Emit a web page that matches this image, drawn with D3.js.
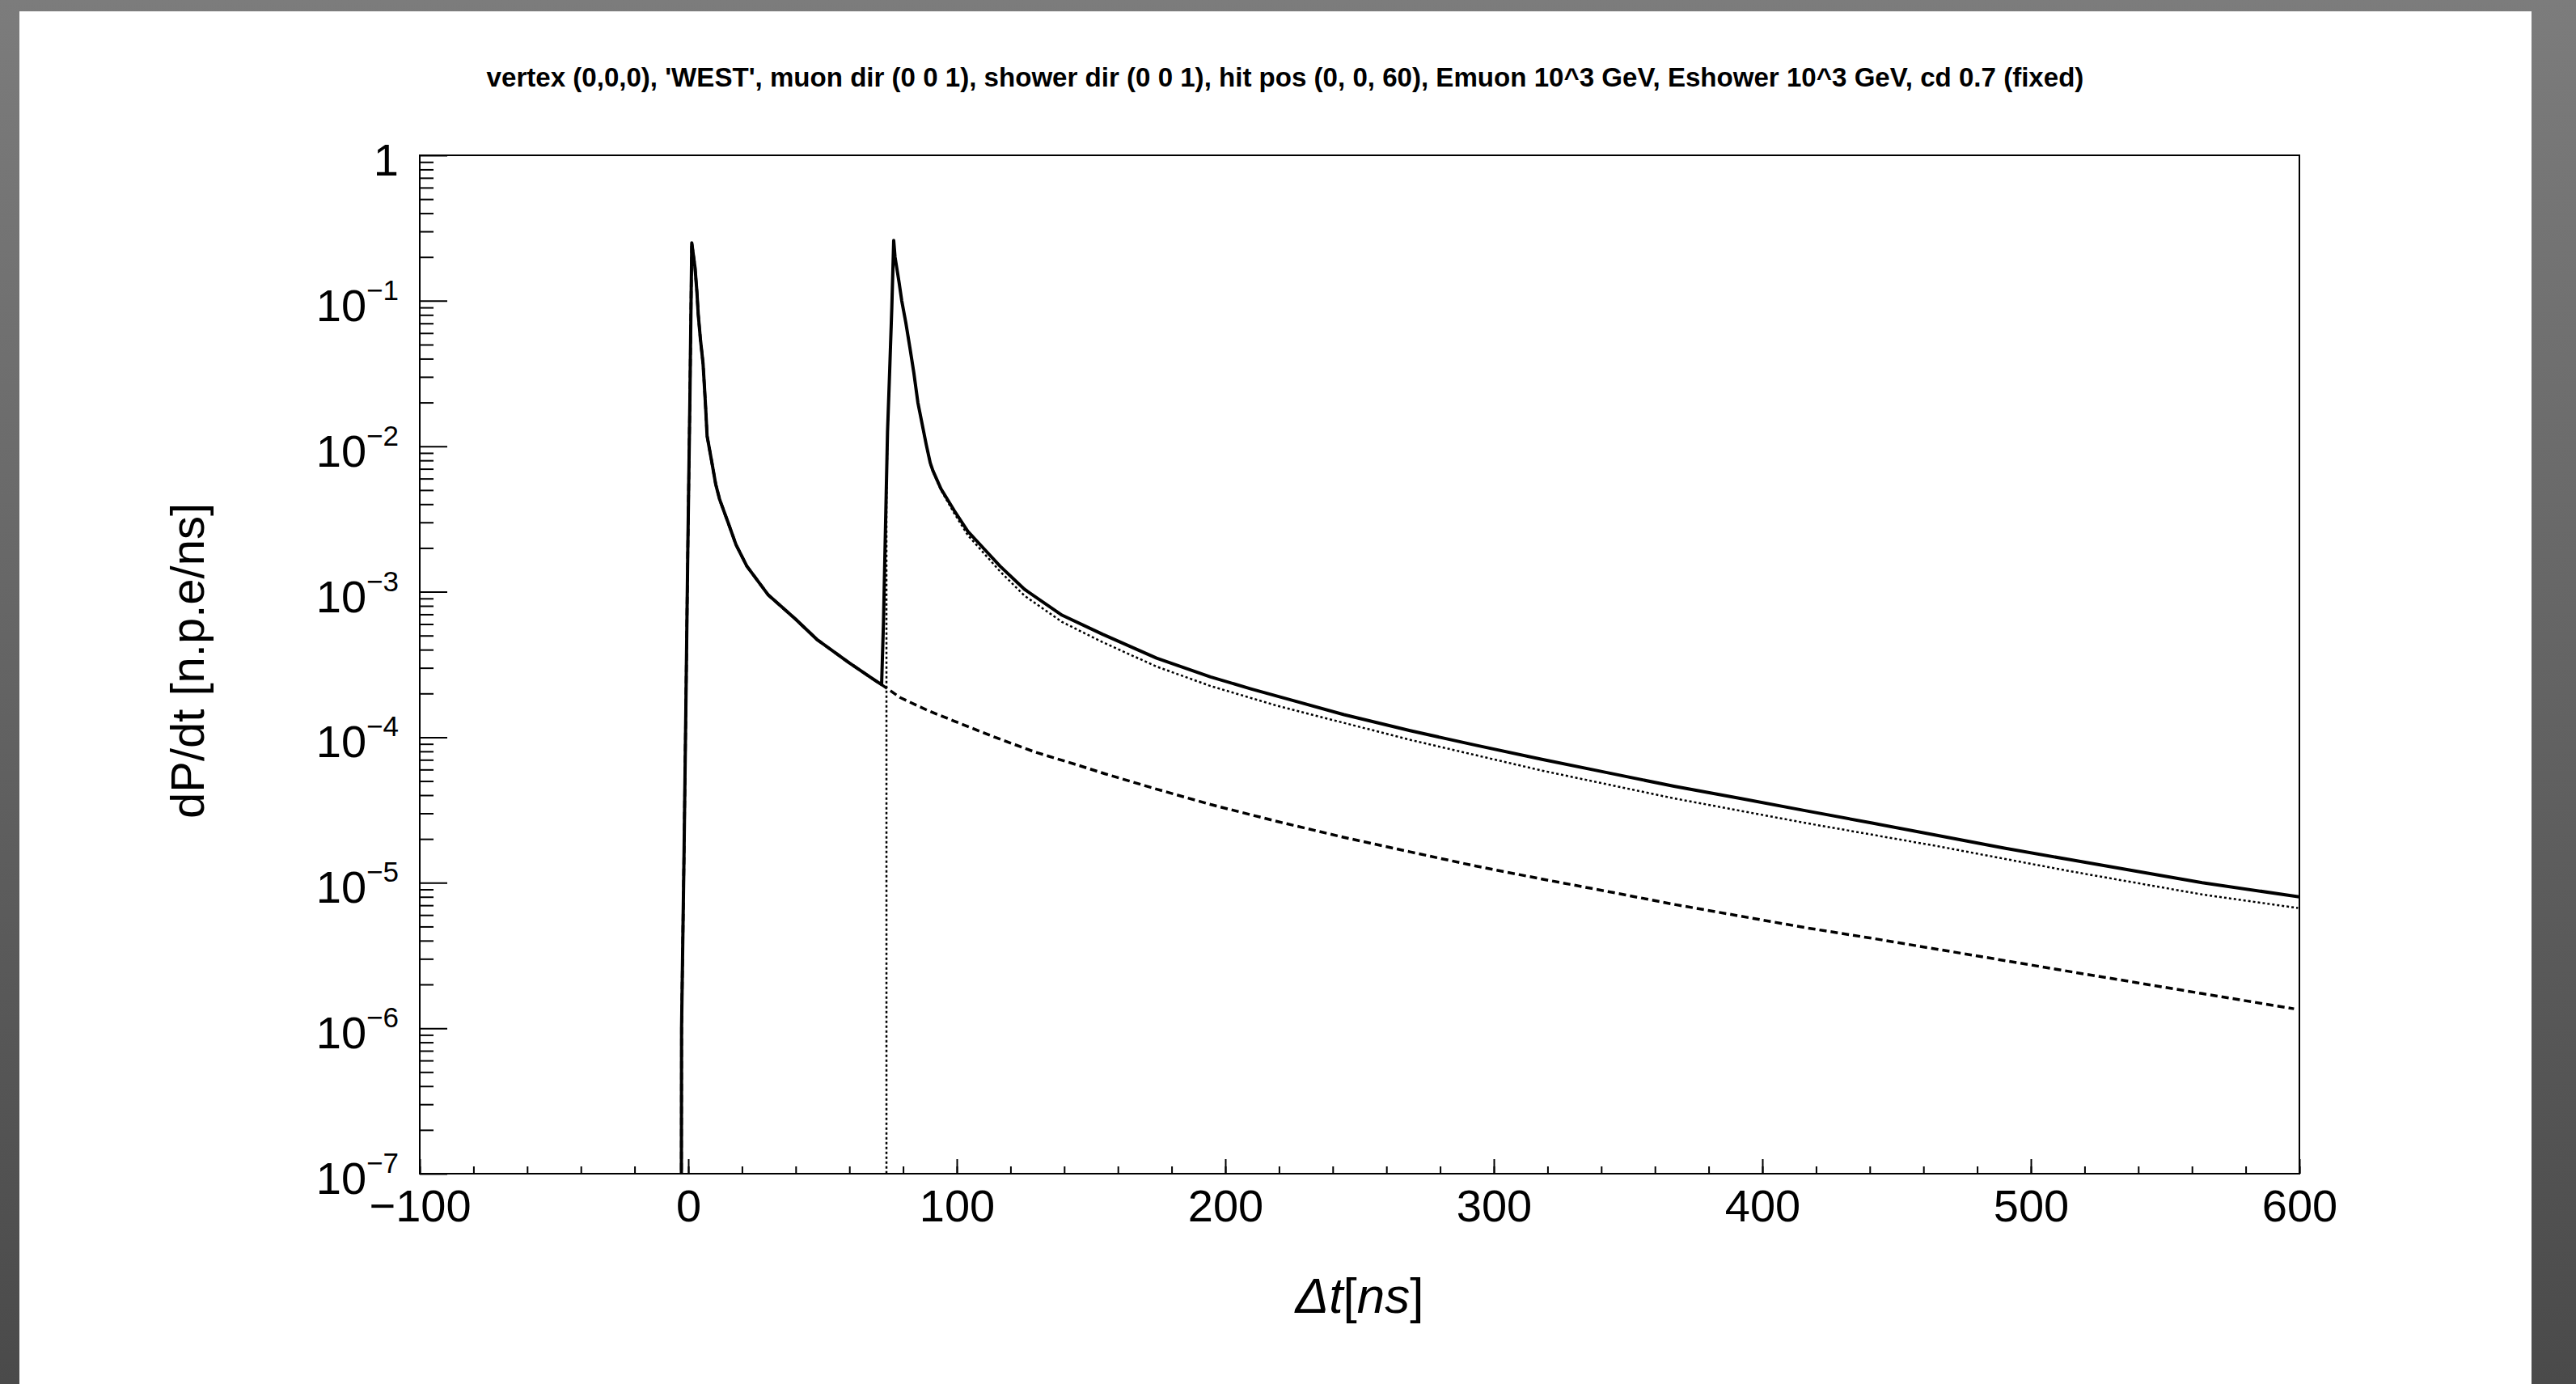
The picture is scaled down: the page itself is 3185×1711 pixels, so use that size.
<!DOCTYPE html>
<html lang="en">

<head>
  <meta charset="UTF-8">
  <title>dP/dt</title>
  <script src="https://d3js.org/d3.v7.min.js"></script>
  <style>
    body {
      margin: 0;
      background: #fff;
    }

    svg {
      display: block;
      font-family: "Liberation Sans", Arial, Helvetica, sans-serif;
    }
  </style>
</head>

<body>
  <svg width="3185" height="1711"></svg>
</body>
<script>
  // total (muon + shower) -> solid line
  const totalT = [-2.7, -2.5, -1.6, -0.9, -0.2, 0.6, 1.3, 2.5, 3.2, 3.7, 4.5, 5.5, 6.0, 6.5, 7.0, 8.7, 10.2, 11.7, 14.8, 17.8,
    21.8, 29.8, 39.9, 47.9, 59.9, 69.0, 72.0, 72.7, 73.2, 73.7, 74.2, 75.0, 75.8, 76.5, 77.0, 78.5, 79.5, 81.0, 82.5, 84.0,
    85.5, 87.0, 88.6, 90.1, 91.1, 94.1, 99.1, 104.1, 109.1, 116.1, 125.2, 139.2, 154.3, 174.4, 194.5, 209.5, 225.6, 244.2,
    268.8, 293.4, 317.9, 342.5, 367.1, 391.7, 416.3, 440.9, 465.5, 490.1, 514.6, 539.2, 563.8, 600.0]
  const totalV = [1e-9, 1e-6, 1.5e-5, 1.6e-4, 1.8e-3, 2.1e-2, 0.25, 0.17, 0.116, 0.081, 0.055, 0.037, 0.026, 0.018, 0.0118,
    7.9e-3, 5.5e-3, 4.3e-3, 3.0e-3, 2.1e-3, 1.5e-3, 9.5e-4, 6.5e-4, 4.7e-4, 3.25e-4, 2.5e-4, 2.3e-4, 6.2e-4, 1.7e-3, 4.6e-3,
    1.25e-2, 3.3e-2, 0.09, 0.26, 0.20, 0.134, 0.10, 0.071, 0.048, 0.032, 0.020, 0.0145, 0.0103, 7.7e-3, 6.8e-3, 5.1e-3,
    3.6e-3, 2.6e-3, 2.07e-3, 1.5e-3, 1.04e-3, 6.9e-4, 5.1e-4, 3.5e-4, 2.6e-4, 2.15e-4, 1.78e-4, 1.43e-4, 1.11e-4, 8.8e-5,
    7.05e-5, 5.7e-5, 4.6e-5, 3.8e-5, 3.12e-5, 2.57e-5, 2.11e-5, 1.73e-5, 1.44e-5, 1.2e-5, 1.0e-5, 8.0e-6]

  // muon only -> dashed line
  const muonT = [-2.7, -2.5, -1.6, -0.9, -0.2, 0.6, 1.3, 2.5, 3.2, 3.7, 4.5, 5.5, 6.0, 6.5, 7.0, 8.7, 10.2, 11.7, 14.8, 17.8,
    21.8, 29.8, 39.9, 47.9, 59.9, 69.0, 72.0, 79.0, 89.1, 99.1, 114.2, 129.2, 144.3, 155.3, 174.4, 194.5, 219.6, 244.2,
    268.8, 293.4, 317.9, 342.5, 367.1, 391.7, 416.3, 440.9, 465.5, 490.1, 514.6, 539.2, 563.8, 598.0]
  const muonV = [1e-9, 1e-6, 1.5e-5, 1.6e-4, 1.8e-3, 2.1e-2, 0.25, 0.17, 0.116, 0.081, 0.055, 0.037, 0.026, 0.018, 0.0118,
    7.9e-3, 5.5e-3, 4.3e-3, 3.0e-3, 2.1e-3, 1.5e-3, 9.5e-4, 6.5e-4, 4.7e-4, 3.25e-4, 2.5e-4, 2.3e-4, 1.87e-4, 1.53e-4,
    1.29e-4, 1.0e-4, 7.9e-5, 6.5e-5, 5.6e-5, 4.4e-5, 3.45e-5, 2.63e-5, 2.05e-5, 1.63e-5, 1.3e-5, 1.06e-5, 8.7e-6, 7.1e-6,
    5.9e-6, 4.9e-6, 4.15e-6, 3.48e-6, 2.92e-6, 2.45e-6, 2.06e-6, 1.73e-6, 1.36e-6]

  // shower only -> dotted line
  const showerT = [73.8, 73.8, 74.2, 75.0, 75.8, 76.5, 77.0, 78.5, 79.5, 81.0, 82.5, 84.0, 85.5, 87.0, 88.6, 90.1, 91.1,
    94.1, 99.1, 104.1, 109.1, 116.1, 125.2, 139.2, 154.3, 174.4, 194.5, 219.6, 268.8, 317.9, 367.1, 416.3, 465.5, 514.6,
    563.8, 599.5]
  const showerV = [1e-9, 4e-3, 1.2e-2, 3.3e-2, 0.09, 0.26, 0.20, 0.134, 0.10, 0.071, 0.048, 0.032, 0.020, 0.0144, 0.0102,
    7.6e-3, 6.7e-3, 5.0e-3, 3.45e-3, 2.45e-3, 1.93e-3, 1.38e-3, 9.4e-4, 6.2e-4, 4.5e-4, 3.06e-4, 2.25e-4, 1.64e-4, 9.6e-5,
    5.9e-5, 3.8e-5, 2.57e-5, 1.78e-5, 1.2e-5, 8.3e-6, 6.7e-6]

  const xTicks = [-100, 0, 100, 200, 300, 400, 500, 600]
  const xMinorStep = 20
  const yExponents = [-7, -6, -5, -4, -3, -2, -1, 0]

  const title = "vertex (0,0,0), 'WEST', muon dir (0 0 1), shower dir (0 0 1), hit pos (0, 0, 60), Emuon 10^3 GeV, Eshower 10^3 GeV, cd 0.7 (fixed)"
  const yTitle = "dP/dt [n.p.e/ns]"

  const width = 3185
  const height = 1711
  const pLeft = 519, pRight = 2843, pTop = 192, pBottom = 1451

  const svg = d3.select("svg")

  // grey window border
  const grad = svg.append("defs").append("linearGradient")
    .attr("id", "frameGrad").attr("x1", 0).attr("y1", 0).attr("x2", 0).attr("y2", 1)
  grad.append("stop").attr("offset", 0).attr("stop-color", "#7c7c7c")
  grad.append("stop").attr("offset", 1).attr("stop-color", "#4a4a4a")
  svg.append("rect").attr("width", width).attr("height", height).attr("fill", "url(#frameGrad)")
  svg.append("rect").attr("x", 24).attr("y", 14).attr("width", 3130 - 24).attr("height", height - 14).attr("fill", "#fff")

  svg.append("clipPath").attr("id", "plotClip")
    .append("rect").attr("x", pLeft).attr("y", pTop).attr("width", pRight - pLeft).attr("height", pBottom - pTop)

  const x = d3.scaleLinear().domain([-100, 600]).range([pLeft, pRight])
  const y = d3.scaleLog().domain([1e-7, 1]).range([pBottom, pTop])

  const line = d3.line()
    .x(d => x(d[0]))
    .y(d => y(d[1]))

  const curves = svg.append("g")
    .attr("clip-path", "url(#plotClip)")
    .attr("fill", "none")
    .attr("stroke", "#000")
    .attr("stroke-linejoin", "round")

  curves.append("path")
    .datum(d3.zip(muonT, muonV))
    .attr("d", line)
    .attr("stroke-width", 3.5)
    .attr("stroke-dasharray", "9 5")

  curves.append("path")
    .datum(d3.zip(showerT, showerV))
    .attr("d", line)
    .attr("stroke-width", 2.5)
    .attr("stroke-dasharray", "3 3")

  curves.append("path")
    .datum(d3.zip(totalT, totalV))
    .attr("d", line)
    .attr("stroke-width", 4)

  // x axis, ticks pointing inside
  const xMinor = d3.range(-100, 600 + 1, xMinorStep)
  svg.append("g")
    .attr("transform", `translate(0,${pBottom})`)
    .call(d3.axisBottom(x).tickValues(xMinor).tickSize(-9).tickFormat(""))
    .call(g => g.select(".domain").remove())
    .call(g => g.selectAll("line").attr("stroke-width", 2))

  const xAxis = svg.append("g")
    .attr("transform", `translate(0,${pBottom})`)
    .call(d3.axisBottom(x).tickValues(xTicks).tickSize(-18).tickFormat(d3.format("d")))
    .call(g => g.select(".domain").remove())
    .call(g => g.selectAll("line").attr("stroke-width", 2))
  xAxis.selectAll("text")
    .attr("y", 59)
    .attr("dy", 0)
    .attr("fill", "#000")
    .attr("font-size", 56)
    .attr("font-family", "Liberation Sans, Arial, sans-serif")

  // y axis (log), major + minor ticks
  const yMajor = yExponents.map(e => Math.pow(10, e))
  const yMinor = y.ticks().filter(v => Math.abs(Math.log10(v) - Math.round(Math.log10(v))) > 1e-6)
  svg.append("g")
    .attr("transform", `translate(${pLeft},0)`)
    .call(d3.axisLeft(y).tickValues(yMinor).tickSize(-17).tickFormat(""))
    .call(g => g.select(".domain").remove())
    .call(g => g.selectAll("line").attr("stroke-width", 2))
  svg.append("g")
    .attr("transform", `translate(${pLeft},0)`)
    .call(d3.axisLeft(y).tickValues(yMajor).tickSize(-34).tickFormat(""))
    .call(g => g.select(".domain").remove())
    .call(g => g.selectAll("line").attr("stroke-width", 2))

  const yLabels = svg.append("g")
    .attr("font-size", 56)
    .attr("text-anchor", "end")
    .selectAll("text")
    .data(yExponents)
    .join("text")
    .attr("x", pLeft - 26)
    .attr("y", e => y(Math.pow(10, e)) + 25)
  yLabels.each(function (e) {
    const t = d3.select(this)
    if (e === 0) {
      t.text("1")
    } else {
      t.append("tspan").text("10")
      t.append("tspan").attr("dy", -26).attr("font-size", 35).text("\u2212" + Math.abs(e))
    }
  })

  // frame
  svg.append("rect")
    .attr("x", pLeft).attr("y", pTop)
    .attr("width", pRight - pLeft).attr("height", pBottom - pTop)
    .attr("fill", "none").attr("stroke", "#000").attr("stroke-width", 2)

  // title, scaled to the measured width
  const titleText = svg.append("text")
    .attr("x", 1589).attr("y", 107)
    .attr("text-anchor", "middle")
    .attr("font-weight", "bold")
    .attr("font-size", 28)
    .text(title)
  const tl = titleText.node().getComputedTextLength()
  titleText.attr("font-size", 28 * 1976 / tl)

  // axis titles
  const xTitle = svg.append("text")
    .attr("x", (pLeft + pRight) / 2).attr("y", 1623)
    .attr("text-anchor", "middle")
    .attr("font-size", 62)
  xTitle.append("tspan").attr("font-style", "italic").text("\u0394t")
  xTitle.append("tspan").text("[")
  xTitle.append("tspan").attr("font-style", "italic").text("ns")
  xTitle.append("tspan").text("]")

  svg.append("text")
    .attr("transform", "translate(252,817) rotate(-90)")
    .attr("text-anchor", "middle")
    .attr("font-size", 58)
    .text(yTitle)
</script>

</html>
